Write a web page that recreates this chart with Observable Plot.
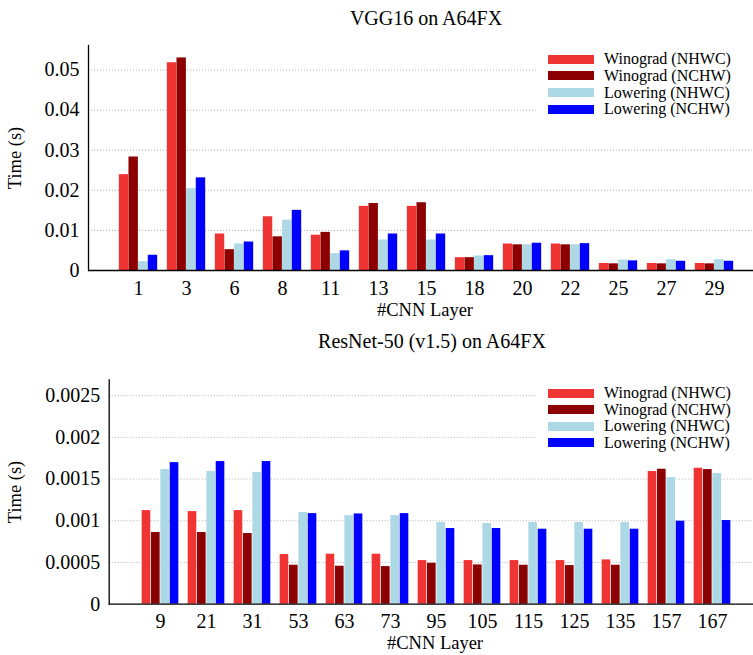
<!DOCTYPE html>
<html>
<head>
<meta charset="utf-8">
<script src="https://cdn.jsdelivr.net/npm/d3@7"></script>
<script src="https://cdn.jsdelivr.net/npm/@observablehq/plot@0.6"></script>
<style>
  body { margin: 0; background: #fff; }
  #wrap { position: relative; width: 753px; height: 655px; overflow: hidden;
          font-family: "Liberation Serif", "Times New Roman", serif; color: #000; background: #fff; }
  .abs { position: absolute; white-space: nowrap; line-height: 1; }
  .title { font-size: 20px; transform: translate(-50%, -50%); }
  .xlab { font-size: 18.5px; transform: translate(-50%, -50%); }
  .ylab { font-size: 18.5px; transform: translate(-50%, -50%) rotate(-90deg); }
  .legend { background: #fff; font-size: 16px; }
  .legend .row { display: flex; align-items: center; overflow: visible; }
  .legend .row span { line-height: 14px; display: inline-block; }
  .legend .sw { width: 46px; height: 9px; margin-left: 11px; margin-right: 10px; }
  .plotbox { position: absolute; left: 0; }
</style>
</head>
<body>
<div id="wrap"></div>
<script>
// ---------- data ----------
const seriesNames = ["Winograd (NHWC)", "Winograd (NCHW)", "Lowering (NHWC)", "Lowering (NCHW)"];
const seriesColors = ["#ef3434", "#8b0000", "#add8e6", "#0000ff"];

const vggLayers   = ["1", "3", "6", "8", "11", "13", "15", "18", "20", "22", "25", "27", "29"];
const vggWinoNHWC = [0.0239, 0.0518, 0.0091, 0.0134, 0.0088, 0.0160, 0.0160, 0.0032, 0.0066, 0.0066, 0.00175, 0.00175, 0.00175];
const vggWinoNCHW = [0.0283, 0.0530, 0.0052, 0.0084, 0.0095, 0.0167, 0.0169, 0.0032, 0.0064, 0.0064, 0.00166, 0.00166, 0.00166];
const vggLowNHWC  = [0.0022, 0.0204, 0.0066, 0.01255, 0.0042, 0.0076, 0.0076, 0.0036, 0.0064, 0.0064, 0.0026, 0.0027, 0.0027];
const vggLowNCHW  = [0.0038, 0.0231, 0.0071, 0.0150, 0.0049, 0.0091, 0.0091, 0.0037, 0.0068, 0.0067, 0.0024, 0.0023, 0.0023];
const vggTicks    = [0, 0.01, 0.02, 0.03, 0.04, 0.05];

const resLayers   = ["9", "21", "31", "53", "63", "73", "95", "105", "115", "125", "135", "157", "167"];
const resWinoNHWC = [0.001122, 0.00111, 0.001122, 0.000595, 0.000599, 0.000599, 0.000523, 0.000523, 0.000523, 0.000523, 0.000531, 0.00159, 0.00163];
const resWinoNCHW = [0.000859, 0.000859, 0.000847, 0.000467, 0.000455, 0.000451, 0.000491, 0.000471, 0.000467, 0.000463, 0.000467, 0.001618, 0.001614];
const resLowNHWC  = [0.001614, 0.00159, 0.00158, 0.0011, 0.001062, 0.001062, 0.000979, 0.000967, 0.000979, 0.000979, 0.000979, 0.001518, 0.001566];
const resLowNCHW  = [0.001697, 0.00171, 0.00171, 0.001086, 0.001082, 0.001086, 0.000907, 0.000907, 0.000899, 0.000899, 0.000899, 0.000995, 0.001003];
const resTicks    = [0, 0.0005, 0.001, 0.0015, 0.002, 0.0025];

// ---------- helpers ----------
function tidy(layers, seriesValues) {
  const rows = [];
  seriesValues.forEach((vals, k) => layers.forEach((l, i) => rows.push({layer: l, series: k, value: vals[i]})));
  return rows;
}

function chart({layers, values, ticks, yMax, height, marginTop, marginBottom, marginLeft, step}) {
  const rows = tidy(layers, values);
  const x0 = marginLeft + step / 2;
  const bars = seriesNames.map((name, k) =>
    Plot.barY(rows.filter(d => d.series === k), {
      x: "layer", y: "value", fill: seriesColors[k],
      insetLeft: step * (0.1 + 0.2 * k),
      insetRight: step * (0.1 + 0.2 * (3 - k))
    })
  );
  return Plot.plot({
    width: 753, height, marginTop, marginBottom, marginLeft, marginRight: 0,
    style: {fontFamily: '"Liberation Serif", "Times New Roman", serif', fontSize: "20px", background: "transparent", color: "#000"},
    x: {type: "band", domain: layers, range: [x0, x0 + layers.length * step], padding: 0},
    y: {domain: [0, yMax]},
    marks: [
      Plot.ruleY(ticks.slice(1), {stroke: "#b0b0b0", strokeDasharray: "1,2", strokeWidth: 1}),
      ...bars,
      Plot.ruleY([0], {stroke: "#000", strokeWidth: 1.3}),
      Plot.frame({anchor: "left", stroke: "#000", strokeWidth: 1.3}),
      Plot.axisX({tickSize: 0, tickPadding: 10, label: null}),
      Plot.axisY({ticks, tickFormat: d3.format("~g"), tickSize: 0, tickPadding: 9, label: null})
    ]
  });
}

function legend(top, rowH) {
  const div = document.createElement("div");
  div.className = "abs legend";
  div.style.left = "537px";
  div.style.top = top + "px";
  div.style.width = "216px";
  seriesNames.forEach((name, k) => {
    const row = document.createElement("div");
    row.className = "row";
    row.style.height = rowH + "px";
    const sw = document.createElement("div");
    sw.className = "sw";
    sw.style.background = seriesColors[k];
    const t = document.createElement("span");
    t.textContent = name;
    row.appendChild(sw); row.appendChild(t);
    div.appendChild(row);
  });
  return div;
}

function label(cls, text, x, y) {
  const d = document.createElement("div");
  d.className = "abs " + cls;
  d.style.left = x + "px";
  d.style.top = y + "px";
  d.textContent = text;
  return d;
}

// ---------- build ----------
const wrap = document.getElementById("wrap");

const top1 = chart({
  layers: vggLayers, values: [vggWinoNHWC, vggWinoNCHW, vggLowNHWC, vggLowNCHW],
  ticks: vggTicks, yMax: 0.0561, height: 330, marginTop: 45, marginBottom: 60, marginLeft: 88, step: 48.25
});
const box1 = document.createElement("div");
box1.className = "plotbox"; box1.style.top = "0px";
box1.appendChild(top1);
wrap.appendChild(box1);

const bot = chart({
  layers: resLayers, values: [resWinoNHWC, resWinoNCHW, resLowNHWC, resLowNCHW],
  ticks: resTicks, yMax: 0.00269, height: 325, marginTop: 49.3, marginBottom: 51.3, marginLeft: 108.7, step: 46.74
});
const box2 = document.createElement("div");
box2.className = "plotbox"; box2.style.top = "330px";
box2.appendChild(bot);
wrap.appendChild(box2);

wrap.appendChild(legend(51, 16.67));
wrap.appendChild(legend(385.1, 16.45));

wrap.appendChild(label("title", "VGG16 on A64FX", 426, 17.5));
wrap.appendChild(label("xlab", "#CNN Layer", 425, 310));
wrap.appendChild(label("ylab", "Time (s)", 15, 157.5));

wrap.appendChild(label("title", "ResNet-50 (v1.5) on A64FX", 432, 341));
wrap.appendChild(label("xlab", "#CNN Layer", 435, 643));
wrap.appendChild(label("ylab", "Time (s)", 15, 491.5));
</script>
</body>
</html>
